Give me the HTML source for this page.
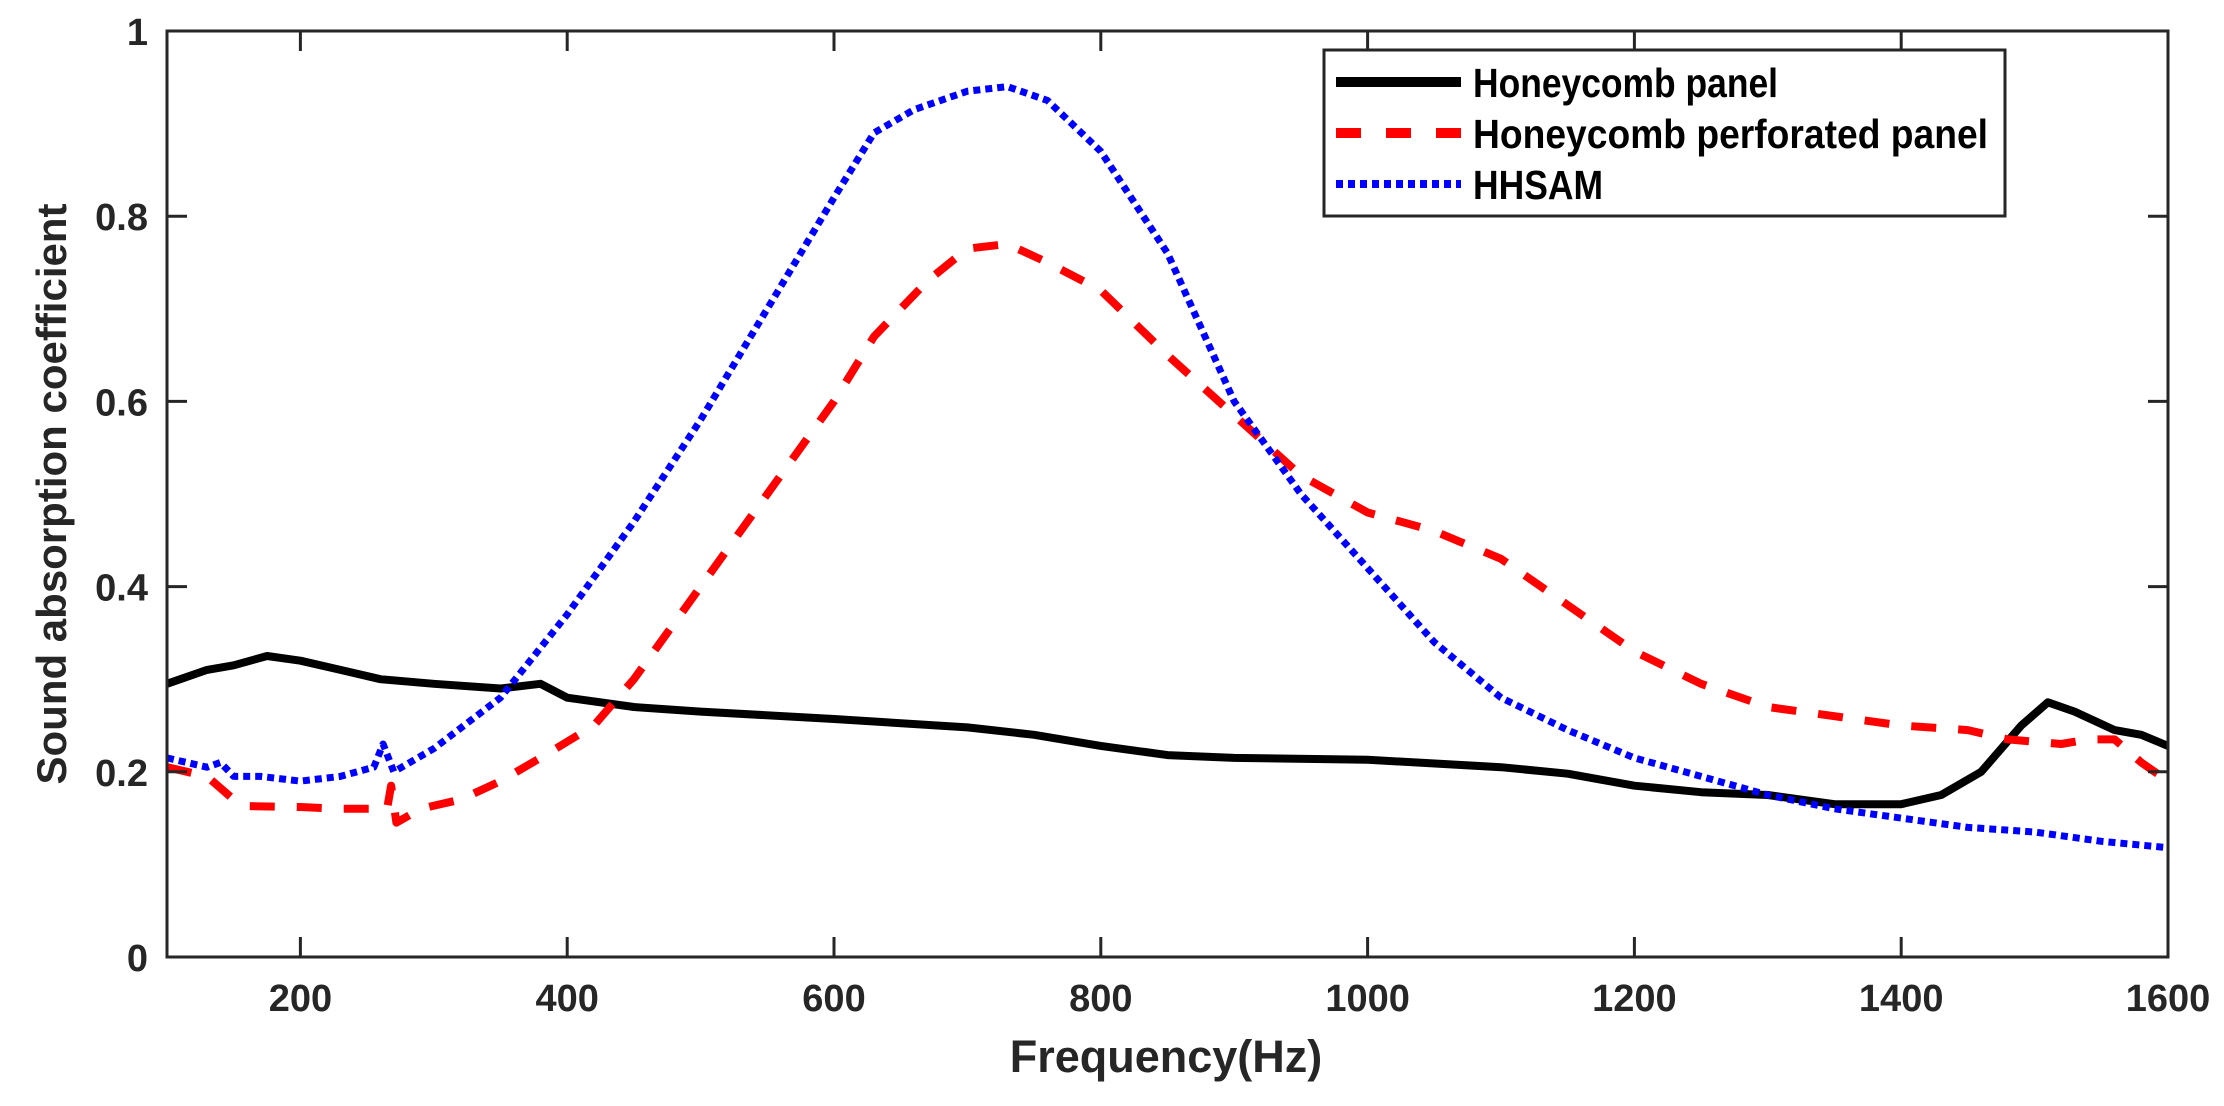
<!DOCTYPE html>
<html><head><meta charset="utf-8">
<style>
html,body{margin:0;padding:0;background:#fff;}
svg{display:block;}
text{font-family:"Liberation Sans",Arial,sans-serif;font-weight:bold;fill:#262626;}
</style></head>
<body>
<svg id="chart" width="2224" height="1106" viewBox="0 0 2224 1106" xmlns="http://www.w3.org/2000/svg">
<rect width="2224" height="1106" fill="#fff"/>
<g id="series"></g>
<g id="axes"></g>
<g id="legend"></g>
</svg>
<script>
const xTicks = [200,400,600,800,1000,1200,1400,1600];
const yTicks = [0,0.2,0.4,0.6,0.8,1];
const yTickLabels = ["0","0.2","0.4","0.6","0.8","1"];
const blackFreq = [100,130,150,175,200,230,260,300,350,380,400,450,500,600,700,750,800,850,900,1000,1100,1150,1200,1250,1300,1350,1400,1430,1460,1490,1510,1530,1560,1580,1600];
const blackVal  = [0.295,0.31,0.315,0.325,0.32,0.31,0.30,0.295,0.29,0.295,0.28,0.27,0.265,0.257,0.248,0.24,0.228,0.218,0.215,0.213,0.205,0.198,0.185,0.178,0.175,0.165,0.165,0.175,0.2,0.25,0.275,0.265,0.245,0.24,0.228];
const redFreq = [100,130,150,160,200,230,265,268,272,290,320,350,380,420,450,500,550,600,630,670,700,730,760,800,850,900,950,1000,1050,1100,1150,1200,1250,1300,1350,1400,1450,1480,1520,1540,1560,1580,1600];
const redVal  = [0.205,0.195,0.17,0.163,0.162,0.16,0.16,0.185,0.145,0.16,0.17,0.19,0.215,0.25,0.3,0.4,0.5,0.6,0.67,0.73,0.765,0.77,0.75,0.72,0.65,0.585,0.52,0.48,0.46,0.43,0.38,0.33,0.295,0.27,0.26,0.25,0.245,0.235,0.23,0.235,0.235,0.21,0.19];
const blueFreq = [100,130,140,150,170,200,230,255,262,270,300,350,400,450,500,550,600,630,660,700,730,760,800,850,900,950,1000,1050,1100,1150,1200,1250,1300,1350,1400,1450,1500,1550,1600];
const blueVal  = [0.215,0.205,0.21,0.195,0.195,0.19,0.195,0.205,0.23,0.2,0.225,0.28,0.37,0.47,0.58,0.7,0.82,0.89,0.915,0.935,0.94,0.925,0.87,0.76,0.6,0.5,0.42,0.34,0.28,0.245,0.215,0.195,0.175,0.16,0.15,0.14,0.135,0.125,0.118];

const NS="http://www.w3.org/2000/svg";
const L=167,R=2168,T=31,B=957,X0=100,X1=1600;
function sx(v){return L+(v-X0)/(X1-X0)*(R-L);}
function sy(v){return B-v*(B-T);}
function mk(tag,attrs,parent){const e=document.createElementNS(NS,tag);for(const k in attrs)e.setAttribute(k,attrs[k]);parent.appendChild(e);return e;}
const series=document.getElementById('series'),axes=document.getElementById('axes'),legend=document.getElementById('legend');

function line(fs,vs,color,w,dash,name){
  const d=fs.map((f,i)=>(i?'L':'M')+sx(f).toFixed(1)+' '+sy(vs[i]).toFixed(1)).join(' ');
  const p=mk('path',{d:d,fill:'none',stroke:color,'stroke-width':w,'stroke-dasharray':dash,'stroke-linejoin':'round'},series);
  
  
}
line(blackFreq,blackVal,'#000',8,'none','honeycomb-panel-line');
line(redFreq,redVal,'#ff0000',8,'25 22','perforated-panel-line');
line(blueFreq,blueVal,'#0000ff',7,'7 5','hhsam-line');

const fr=mk('rect',{x:L,y:T,width:R-L,height:B-T,fill:'none',stroke:'#262626','stroke-width':3},axes);


xTicks.forEach(t=>{
  const x=sx(t);
  const a=mk('line',{x1:x,x2:x,y1:B,y2:B-20,stroke:'#262626','stroke-width':3},axes);
  
  
  const b=mk('line',{x1:x,x2:x,y1:T,y2:T+20,stroke:'#262626','stroke-width':3},axes);
  
  
  const tx=mk('text',{x:x,y:1011,'text-anchor':'middle','font-size':38},axes);
  tx.textContent=t;
  
  
});
yTicks.forEach((t,i)=>{
  const y=sy(t);
  const a=mk('line',{x1:L,x2:L+20,y1:y,y2:y,stroke:'#262626','stroke-width':3},axes);
  
  
  const b=mk('line',{x1:R,x2:R-20,y1:y,y2:y,stroke:'#262626','stroke-width':3},axes);
  
  
  const tx=mk('text',{x:148,y:y+14,'text-anchor':'end','font-size':38},axes);
  tx.textContent=yTickLabels[i];
  
  
});
const xt=mk('text',{x:1166,y:1072,'text-anchor':'middle','font-size':45},axes);
xt.textContent='Frequency(Hz)';


const yt=mk('text',{x:0,y:0,'text-anchor':'middle','font-size':42,transform:'translate(66,494) rotate(-90)'},axes);
yt.textContent='Sound absorption coefficient';



const lb=mk('rect',{x:1324,y:50,width:681,height:166,fill:'#fff',stroke:'#262626','stroke-width':3},legend);


const entries=[['Honeycomb panel','#000','none',10,82,305],['Honeycomb perforated panel','#ff0000','25 25',10,133,515],['HHSAM','#0000ff','7 5',8,184,130]];
entries.forEach(e=>{
  const g=mk('g',{},legend);
  
  
  mk('line',{x1:1336,x2:1461,y1:e[4],y2:e[4],stroke:e[1],'stroke-width':e[3],'stroke-dasharray':e[2]},g);
  const t=mk('text',{x:1473,y:e[4]+15,'font-size':41,textLength:e[5],lengthAdjust:'spacingAndGlyphs',style:'fill:#000'},g);
  t.textContent=e[0];
});
</script>
</body></html>
